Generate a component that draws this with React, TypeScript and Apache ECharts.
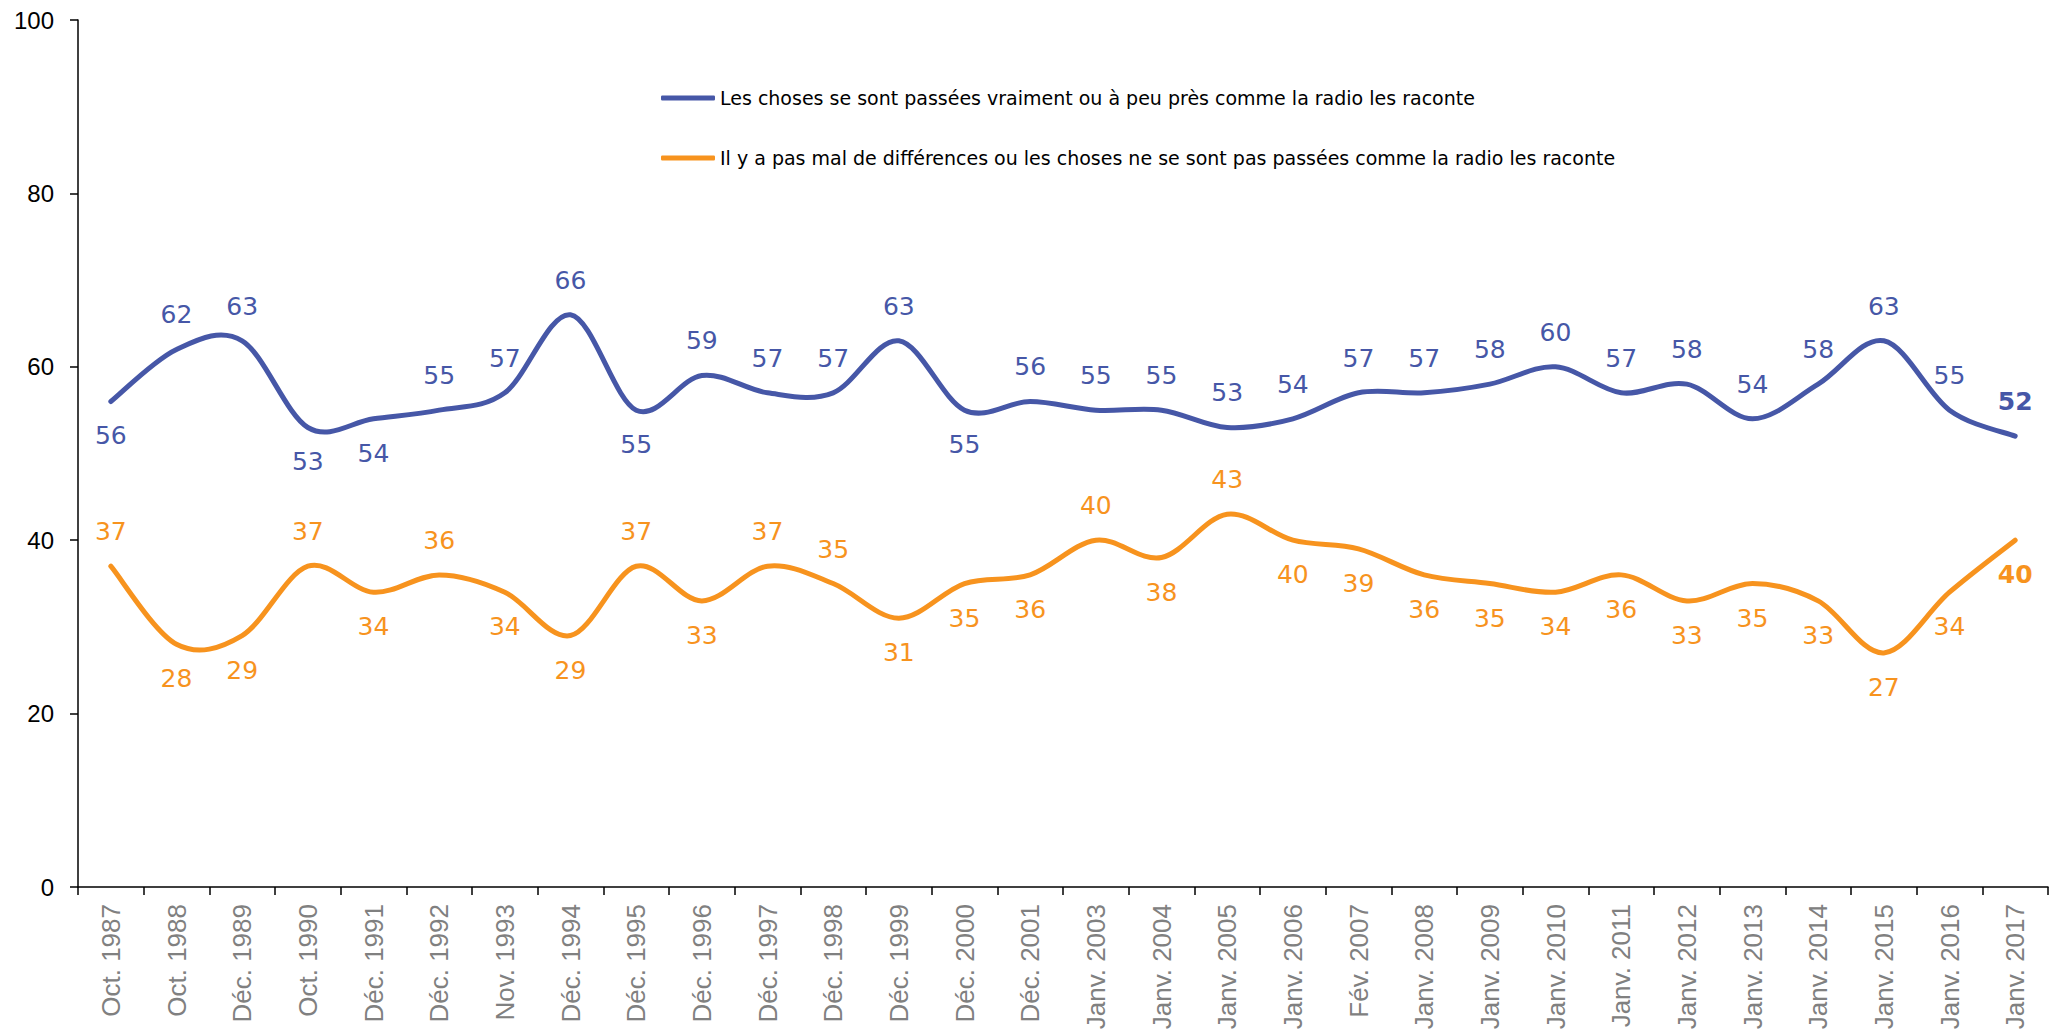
import React, { useEffect, useRef } from "react";
import * as echarts from "echarts";

const categories = [
  "Oct. 1987", "Oct. 1988", "Déc. 1989", "Oct. 1990", "Déc. 1991", "Déc. 1992",
  "Nov. 1993", "Déc. 1994", "Déc. 1995", "Déc. 1996", "Déc. 1997", "Déc. 1998",
  "Déc. 1999", "Déc. 2000", "Déc. 2001", "Janv. 2003", "Janv. 2004", "Janv. 2005",
  "Janv. 2006", "Fév. 2007", "Janv. 2008", "Janv. 2009", "Janv. 2010", "Janv. 2011",
  "Janv. 2012", "Janv. 2013", "Janv. 2014", "Janv. 2015", "Janv. 2016", "Janv. 2017",
];

const seriesNames = [
  "Les choses se sont passées vraiment ou à peu près comme la radio les raconte",
  "Il y a pas mal de différences ou les choses ne se sont pas passées comme la radio les raconte",
];

const valuesComme = [
  56, 62, 63, 53, 54, 55, 57, 66, 55, 59,
  57, 57, 63, 55, 56, 55, 55, 53, 54, 57,
  57, 58, 60, 57, 58, 54, 58, 63, 55, 52,
];

const valuesDiff = [
  37, 28, 29, 37, 34, 36, 34, 29, 37, 33,
  37, 35, 31, 35, 36, 40, 38, 43, 40, 39,
  36, 35, 34, 36, 33, 35, 33, 27, 34, 40,
];

// label placement (style only)
const posComme = [
  "bottom", "top", "top", "bottom", "bottom", "top", "top", "top", "bottom", "top",
  "top", "top", "top", "bottom", "top", "top", "top", "top", "top", "top",
  "top", "top", "top", "top", "top", "top", "top", "top", "top", "top",
];
const posDiff = [
  "top", "bottom", "bottom", "top", "bottom", "top", "bottom", "bottom", "top", "bottom",
  "top", "top", "bottom", "bottom", "bottom", "top", "bottom", "top", "bottom", "bottom",
  "bottom", "bottom", "bottom", "bottom", "bottom", "bottom", "bottom", "bottom", "bottom", "bottom",
];

const yTicks = { min: 0, max: 100, interval: 20 };

const BLUE = "#4657A7";
const ORANGE = "#F7931E";
const LABEL_FONT = "'DejaVu Sans', Verdana, sans-serif";
const AXIS_FONT = "'Liberation Sans', Arial, sans-serif";

function buildData(values: number[], pos: string[], color: string) {
  return values.map((v, i) => {
    const last = i === values.length - 1;
    return {
      value: v,
      label: {
        show: true,
        position: pos[i],
        distance: 21,
        color,
        fontSize: 25,
        fontWeight: last ? "bold" : "normal",
        fontFamily: LABEL_FONT,
      },
    };
  });
}

// Smooth curve (Catmull-Rom style, like spreadsheet smoothing) drawn through axis coordinates
function makeSmoothRenderer(values: number[], color: string) {
  return (params: any, api: any) => {
    if (params.dataIndex !== 0) return null;
    const pts = values.map((v, i) => api.coord([i, v]));
    const n = pts.length;
    let d = `M${pts[0][0]},${pts[0][1]}`;
    for (let i = 0; i < n - 1; i++) {
      const p0 = pts[i - 1] || pts[i];
      const p1 = pts[i];
      const p2 = pts[i + 1];
      const p3 = pts[i + 2] || pts[i + 1];
      const c1x = p1[0] + (p2[0] - p0[0]) / 6;
      const c1y = p1[1] + (p2[1] - p0[1]) / 6;
      const c2x = p2[0] - (p3[0] - p1[0]) / 6;
      const c2y = p2[1] - (p3[1] - p1[1]) / 6;
      d += ` C${c1x},${c1y} ${c2x},${c2y} ${p2[0]},${p2[1]}`;
    }
    return {
      type: "path",
      silent: true,
      shape: { pathData: d },
      style: {
        fill: "none",
        stroke: color,
        lineWidth: 5,
        lineCap: "round",
        lineJoin: "round",
      },
    };
  };
}

export default function App() {
  const ref = useRef<HTMLDivElement>(null);

  useEffect(() => {
    document.body.style.margin = "0";
    if (!ref.current) return;
    const chart = echarts.init(ref.current, null, { renderer: "svg" });
    chart.setOption({
      animation: false,
      backgroundColor: "#ffffff",
      grid: { left: 78, right: 10, top: 20, bottom: 149, containLabel: false },
      legend: {
        orient: "vertical",
        left: 656,
        top: 82,
        itemWidth: 54,
        itemHeight: 5,
        itemGap: 38,
        icon: "roundRect",
        data: [
          { name: seriesNames[0], itemStyle: { color: BLUE } },
          { name: seriesNames[1], itemStyle: { color: ORANGE } },
        ],
        textStyle: {
          fontSize: 19,
          lineHeight: 22,
          color: "#000",
          fontFamily: LABEL_FONT,
        },
      },
      xAxis: {
        type: "category",
        data: categories,
        boundaryGap: true,
        axisLine: { show: true, lineStyle: { color: "#000", width: 1.5 } },
        axisTick: { show: true, length: 8, lineStyle: { color: "#000", width: 1.5 } },
        axisLabel: {
          rotate: 90,
          interval: 0,
          margin: 17,
          color: "#808080",
          fontSize: 26,
          fontFamily: AXIS_FONT,
        },
        splitLine: { show: false },
      },
      yAxis: {
        type: "value",
        min: yTicks.min,
        max: yTicks.max,
        interval: yTicks.interval,
        axisLine: { show: true, lineStyle: { color: "#000", width: 1.5 } },
        axisTick: { show: true, length: 8, lineStyle: { color: "#000", width: 1.5 } },
        axisLabel: {
          margin: 24,
          color: "#000",
          fontSize: 24,
          fontFamily: AXIS_FONT,
        },
        splitLine: { show: false },
      },
      series: [
        {
          name: seriesNames[0],
          type: "custom",
          renderItem: makeSmoothRenderer(valuesComme, BLUE),
          data: valuesComme.map((v, i) => [i, v]),
          encode: { x: 0, y: 1 },
          clip: false,
          z: 2,
        },
        {
          name: seriesNames[1],
          type: "custom",
          renderItem: makeSmoothRenderer(valuesDiff, ORANGE),
          data: valuesDiff.map((v, i) => [i, v]),
          encode: { x: 0, y: 1 },
          clip: false,
          z: 2,
        },
        {
          name: seriesNames[0],
          type: "line",
          symbol: "circle",
          symbolSize: 2,
          showSymbol: true,
          color: BLUE,
          itemStyle: { color: BLUE },
          lineStyle: { color: BLUE, width: 0, opacity: 0 },
          data: buildData(valuesComme, posComme, BLUE),
          z: 3,
        },
        {
          name: seriesNames[1],
          type: "line",
          symbol: "circle",
          symbolSize: 2,
          showSymbol: true,
          color: ORANGE,
          itemStyle: { color: ORANGE },
          lineStyle: { color: ORANGE, width: 0, opacity: 0 },
          data: buildData(valuesDiff, posDiff, ORANGE),
          z: 3,
        },
      ],
    });
    return () => chart.dispose();
  }, []);

  return <div ref={ref} style={{ width: 2058, height: 1036 }} />;
}
